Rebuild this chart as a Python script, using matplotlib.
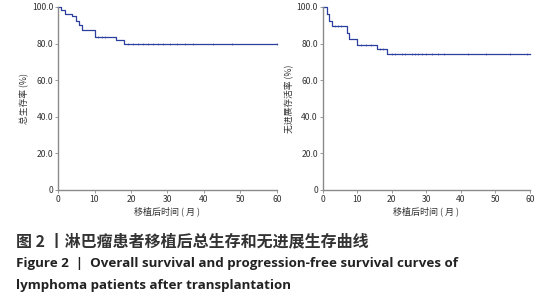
import matplotlib
matplotlib.use("Agg")
import matplotlib.pyplot as plt
import numpy as np

plt.rcParams['font.family'] = ['Noto Sans CJK SC', 'DejaVu Sans']

# Overall survival (left)
os_times = [0, 0.9, 1.8, 3.9, 5.0, 5.8, 6.7, 10.0, 16.0, 18.0, 60]
os_surv = [100, 98.6, 96.4, 95.3, 92.3, 90.0, 87.4, 83.8, 82.0, 79.6, 79.6]
os_cens_t = [11, 12, 13, 19.2, 20.6, 22, 23.3, 24.7, 26.1, 27.5, 28.8, 30.7, 32.5, 34.8, 37, 42.6, 47.6, 60]
os_cens_s = [83.8, 83.8, 83.8] + [79.6] * 15

# Progression-free survival (right)
pfs_times = [0, 1.2, 1.8, 2.6, 6.9, 7.6, 9.8, 15.8, 18.7, 60]
pfs_surv = [100, 95.9, 92.3, 89.5, 86.0, 82.7, 79.1, 76.9, 74.2, 74.2]
pfs_cens_t = [3.5, 4.5, 5.2, 11, 12.5, 14, 16.5, 17.5, 20, 21, 22.9, 23.8, 25.8, 26.6,
              27.7, 28.6, 30, 31.5, 33.5, 35, 42, 47.4, 54.2, 59]
pfs_cens_s = [89.5] * 3 + [79.1] * 3 + [76.9] * 2 + [74.2] * 16

y_ticks = [0, 20, 40, 60, 80, 100]
y_ticklabels = ['0', '20.0', '40.0', '60.0', '80.0', '100.0']
x_ticks = [0, 10, 20, 30, 40, 50, 60]

line_color = '#2c3f9c'
axis_color = '#8a8a8a'
text_color = '#333333'

fig = plt.figure(figsize=(5.5, 3.0), dpi=100)
ax1 = fig.add_axes([0.1055, 0.3667, 0.398, 0.61])
ax2 = fig.add_axes([0.587, 0.3667, 0.3766, 0.61])

panels = [
    (ax1, os_times, os_surv, os_cens_t, os_cens_s, '总生存率 (%)'),
    (ax2, pfs_times, pfs_surv, pfs_cens_t, pfs_cens_s, '无进展存活率 (%)'),
]
for ax, t, s, ct, cs, ylab in panels:
    ax.step(t, s, where='post', color=line_color, lw=0.9, clip_on=False)
    ax.plot(ct, cs, linestyle='none', marker='|', markersize=1.8, color=line_color,
            markeredgewidth=0.5, alpha=0.8, clip_on=False)
    ax.set_xlim(0, 60)
    ax.set_ylim(0, 100)
    ax.set_yticks(y_ticks)
    ax.set_yticklabels(y_ticklabels)
    ax.set_xticks(x_ticks)
    for sp in ['top', 'right']:
        ax.spines[sp].set_visible(False)
    for sp in ['left', 'bottom']:
        ax.spines[sp].set_color(axis_color)
        ax.spines[sp].set_linewidth(1.0)
    ax.tick_params(axis='both', labelsize=6.2, colors=text_color, length=2,
                   width=0.6, pad=1.5)
    ax.tick_params(axis='both', color=axis_color)
    ax.set_xlabel('移植后时间 ( 月 )', fontsize=6.5, color=text_color, labelpad=2)
    ax.set_ylabel(ylab, fontsize=6.3, color=text_color, labelpad=2)

fig.text(0.03, 0.197, '图 2 丨淋巴瘤患者移植后总生存和无进展生存曲线', fontsize=11.5,
         color='#333333', va='center', ha='left', fontweight='bold')
fig.text(0.03, 0.123, 'Figure 2  |  Overall survival and progression-free survival curves of',
         fontsize=9.6, color='#222222', va='center', ha='left', fontweight='bold',
         family=['Open Sans', 'DejaVu Sans'])
fig.text(0.03, 0.05, 'lymphoma patients after transplantation',
         fontsize=9.6, color='#222222', va='center', ha='left', fontweight='bold',
         family=['Open Sans', 'DejaVu Sans'])

fig.savefig('out.png', dpi=100)
